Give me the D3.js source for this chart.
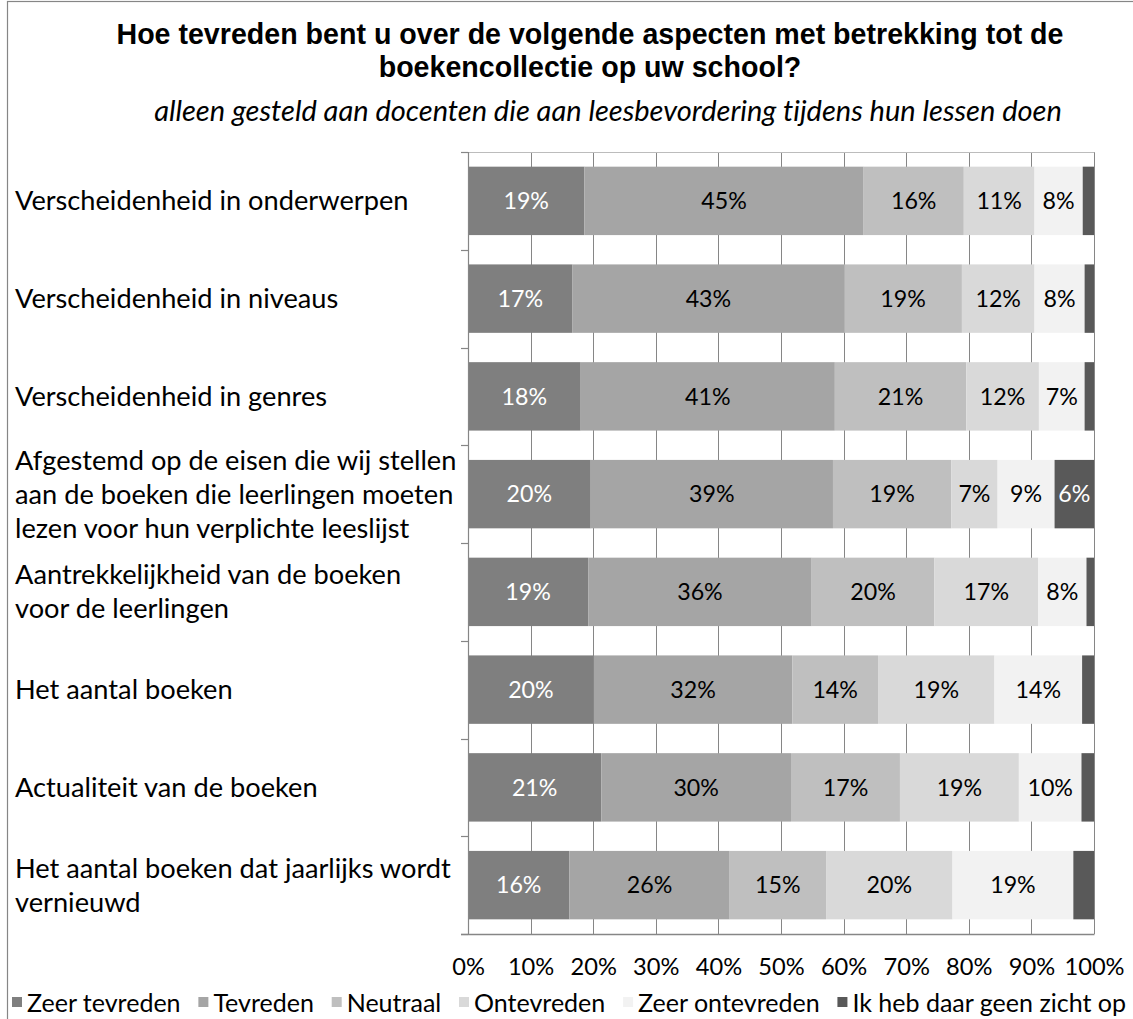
<!DOCTYPE html>
<html>
<head>
<meta charset="utf-8">
<script src="https://cdn.jsdelivr.net/npm/d3@7"></script>
<style>
  html, body { margin: 0; padding: 0; background: #fff; }
  svg { display: block; }
  text { font-variant-ligatures: none; }
</style>
</head>
<body>
<svg id="chart" width="1133" height="1019"></svg>
<script>
// ---------- DATA ----------
const titleLines = ["Hoe tevreden bent u over de volgende aspecten met betrekking tot de", "boekencollectie op uw school?"];
const subtitle = "alleen gesteld aan docenten die aan leesbevordering tijdens hun lessen doen";

const categories = [
  "Verscheidenheid in onderwerpen",
  "Verscheidenheid in niveaus",
  "Verscheidenheid in genres",
  "Afgestemd op de eisen die wij stellen\naan de boeken die leerlingen moeten\nlezen voor hun verplichte leeslijst",
  "Aantrekkelijkheid van de boeken\nvoor de leerlingen",
  "Het aantal boeken",
  "Actualiteit van de boeken",
  "Het aantal boeken dat jaarlijks wordt\nvernieuwd"
];

const seriesNames = ["Zeer tevreden", "Tevreden", "Neutraal", "Ontevreden", "Zeer ontevreden", "Ik heb daar geen zicht op"];

const zeerTevreden   = [18.6, 16.7, 18.0, 19.6, 19.2, 20.1, 21.3, 16.2];
const tevreden       = [44.6, 43.4, 40.6, 38.7, 35.7, 31.7, 30.3, 25.6];
const neutraal       = [16.0, 18.8, 21.0, 18.9, 19.6, 13.7, 17.4, 15.4];
const ontevreden     = [11.3, 11.6, 11.6,  7.4, 16.6, 18.6, 19.0, 20.2];
const zeerOntevreden = [ 7.7,  8.0,  7.3,  9.1,  7.7, 14.0, 10.0, 19.3];
const geenZicht      = [ 1.8,  1.5,  1.5,  6.3,  1.2,  1.9,  2.0,  3.3];

const xTicks = [0, 10, 20, 30, 40, 50, 60, 70, 80, 90, 100];
const xTickLabels = ["0%", "10%", "20%", "30%", "40%", "50%", "60%", "70%", "80%", "90%", "100%"];

// ---------- STYLE ----------
const colors = ["#7f7f7f", "#a5a5a5", "#bfbfbf", "#d9d9d9", "#f2f2f2", "#595959"];
const labelColors = ["#ffffff", "#000000", "#000000", "#000000", "#000000", "#ffffff"];
const gridColor = "#868686";
const bodyFont = "Lato, 'Open Sans', sans-serif";

const svg = d3.select("#chart");

function measure(text, family, size, style, weight) {
  const t = svg.append("text")
    .attr("font-family", family).attr("font-size", size)
    .attr("font-style", style || "normal").attr("font-weight", weight || "normal")
    .text(text);
  const w = t.node().getComputedTextLength();
  t.remove();
  return w;
}
// Calibri width of the reference string at 1px = 13.166 em
const probeW = measure("Verscheidenheid in onderwerpen", bodyFont, 100);
const ratio = probeW / 1316.6;
const cal = s => s / ratio;
const catSize = cal(29.9);
const valSize = cal(25.5);
const subSize = (() => { const w = measure(subtitle, bodyFont, 100, "italic"); return 100 * 908 / w; })();

// Outer chart border
svg.append("rect")
  .attr("x", 7.5).attr("y", 1.5).attr("width", 1300).attr("height", 1200)
  .attr("fill", "none").attr("stroke", gridColor).attr("stroke-width", 1.2);

// Title
const title = svg.append("text")
  .attr("text-anchor", "middle")
  .attr("font-family", "'Liberation Sans', Arial, sans-serif")
  .attr("font-weight", "bold").attr("font-size", 28.6).attr("fill", "#000");
titleLines.forEach((l, i) => {
  title.append("tspan").attr("x", 590).attr("y", 44 + i * 33).text(l);
});

svg.append("text")
  .attr("x", 608).attr("y", 121)
  .attr("text-anchor", "middle")
  .attr("font-family", bodyFont).attr("font-style", "italic")
  .attr("font-size", subSize).attr("fill", "#000")
  .text(subtitle);

// ---------- SCALES ----------
const plot = { left: 468, right: 1094, top: 152, bottom: 934 };
const x = d3.scaleLinear().domain([0, 100]).range([plot.left, plot.right]);
const y = d3.scaleBand().domain(categories).range([plot.top, plot.bottom])
  .paddingInner(0.3).paddingOuter(0.15);

const seriesArrays = [zeerTevreden, tevreden, neutraal, ontevreden, zeerOntevreden, geenZicht];
const rows = categories.map((c, i) => {
  const r = { cat: c };
  seriesNames.forEach((s, j) => r[s] = seriesArrays[j][i]);
  return r;
});
const stacked = d3.stack().keys(seriesNames)(rows);

// Gridlines
svg.append("g").selectAll("line").data(xTicks).join("line")
  .attr("x1", d => Math.round(x(d)) + 0.5).attr("x2", d => Math.round(x(d)) + 0.5)
  .attr("y1", plot.top).attr("y2", plot.bottom)
  .attr("stroke", gridColor).attr("stroke-width", 1);
svg.append("line")
  .attr("x1", plot.left).attr("x2", Math.round(x(100)) + 0.5)
  .attr("y1", plot.top + 0.5).attr("y2", plot.top + 0.5)
  .attr("stroke", "#bcbcbc").attr("stroke-width", 1);

// Bars
const layers = svg.append("g").selectAll("g").data(stacked).join("g")
  .attr("fill", (d, i) => colors[i]);
layers.selectAll("rect").data(d => d.map(v => ({ v, cat: v.data.cat }))).join("rect")
  .attr("x", d => x(d.v[0]))
  .attr("y", d => y(d.cat))
  .attr("width", d => x(d.v[1]) - x(d.v[0]))
  .attr("height", y.bandwidth());

// Value labels
stacked.forEach((layer, i) => {
  svg.append("g").selectAll("text").data(layer.filter(v => (v[1] - v[0]) >= 4)).join("text")
    .attr("x", v => (x(v[0]) + x(v[1])) / 2)
    .attr("y", v => y(v.data.cat) + y.bandwidth() / 2)
    .attr("dy", "0.36em")
    .attr("text-anchor", "middle")
    .attr("font-family", bodyFont).attr("font-size", valSize)
    .attr("fill", labelColors[i])
    .text(v => Math.round(v[1] - v[0]) + "%");
});

// Left axis (ticks at category boundaries)
const boundaries = d3.range(categories.length + 1).map(i => plot.top + i * (plot.bottom - plot.top) / categories.length);
svg.append("line")
  .attr("x1", plot.left + 0.5).attr("x2", plot.left + 0.5)
  .attr("y1", plot.top).attr("y2", plot.bottom)
  .attr("stroke", gridColor).attr("stroke-width", 1.2);
svg.append("g").selectAll("line").data(boundaries).join("line")
  .attr("x1", plot.left - 7).attr("x2", plot.left)
  .attr("y1", d => Math.round(d) + 0.5).attr("y2", d => Math.round(d) + 0.5)
  .attr("stroke", gridColor).attr("stroke-width", 1.2);

// Bottom axis
const xAxis = d3.axisBottom(x).tickValues(xTicks)
  .tickFormat((d, i) => xTickLabels[i]).tickSize(0).tickPadding(0);
const gx = svg.append("g").attr("transform", `translate(0,${plot.bottom})`).call(xAxis);
gx.select(".domain").attr("stroke", gridColor).attr("stroke-width", 1.5)
  .attr("d", `M${plot.left - 7},0.5H${Math.round(x(100)) + 0.5}`);
gx.selectAll("text")
  .attr("y", 41).attr("dy", null)
  .attr("font-family", bodyFont).attr("font-size", cal(26)).attr("fill", "#000");

// Category labels
const lineH = 34;
svg.append("g").selectAll("text").data(categories).join("text")
  .attr("font-family", bodyFont).attr("font-size", catSize).attr("fill", "#000")
  .each(function (c) {
    const lines = c.split("\n");
    const cy = y(c) + y.bandwidth() / 2;
    const t = d3.select(this);
    lines.forEach((l, i) => {
      t.append("tspan")
        .attr("x", 15)
        .attr("y", cy + (i - (lines.length - 1) / 2) * lineH)
        .attr("dy", "0.35em")
        .text(l);
    });
  });

// Legend (spread over the chart width like Excel)
const legendY = 1003;
const legSize = cal(27.5);
const mk = 10, mkGap = 5;
const legStart = 12, legEnd = 1126;
const widths = seriesNames.map(s => measure(s, bodyFont, legSize));
const itemGap = (legEnd - legStart - d3.sum(widths) - seriesNames.length * (mk + mkGap)) / (seriesNames.length - 1);
let lx = legStart;
const legend = svg.append("g");
seriesNames.forEach((s, i) => {
  legend.append("rect")
    .attr("x", lx).attr("y", legendY - mk / 2 - 1).attr("width", mk).attr("height", mk)
    .attr("fill", colors[i]);
  legend.append("text")
    .attr("x", lx + mk + mkGap).attr("y", legendY).attr("dy", "0.35em")
    .attr("font-family", bodyFont).attr("font-size", legSize).attr("fill", "#000")
    .text(s);
  lx += mk + mkGap + widths[i] + itemGap;
});
</script>
</body>
</html>
